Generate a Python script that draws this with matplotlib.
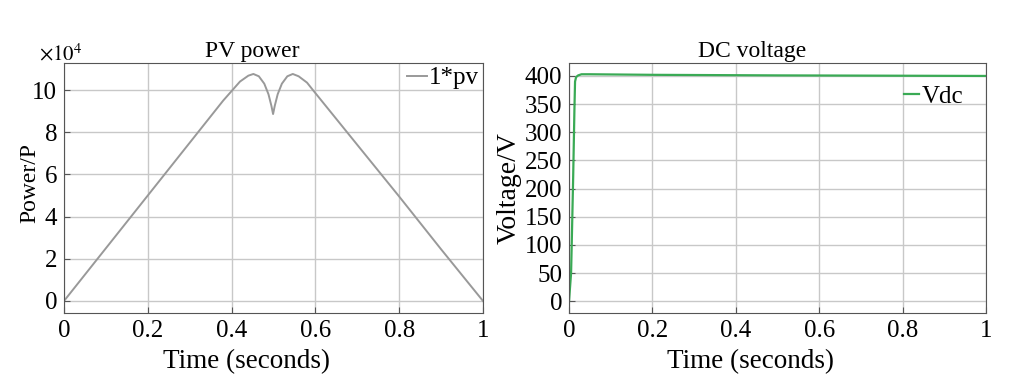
import matplotlib.pyplot as plt

plt.rcParams['font.family'] = ['Liberation Serif', 'DejaVu Serif']
plt.rcParams['mathtext.fontset'] = 'stix'

# PV power (x1e4)
t_pv = [0, 0.1, 0.2, 0.3, 0.38, 0.40, 0.42, 0.44, 0.452, 0.465, 0.478,
        0.488, 0.495, 0.499, 0.503, 0.51, 0.52, 0.533, 0.546, 0.56, 0.58,
        0.594, 0.7, 0.8, 0.9, 1.0]
p_pv = [0, 2.5, 5.0, 7.5, 9.5, 9.95, 10.4, 10.68, 10.76, 10.65, 10.3,
        9.8, 9.25, 8.86, 9.25, 9.8, 10.3, 10.65, 10.76, 10.65, 10.35,
        10.0, 7.4, 4.95, 2.45, 0]

# DC voltage
t_dc = [0, 0.005, 0.0065, 0.01, 0.013, 0.0145, 0.017, 0.022, 0.03, 0.05, 0.2, 0.5, 1.0]
v_dc = [0, 50, 100, 220, 340, 390, 398, 401, 403, 403, 402, 401, 400]

xticks = [0, 0.2, 0.4, 0.6, 0.8, 1]
xlabels = ['0', '0.2', '0.4', '0.6', '0.8', '1']

fig = plt.figure(figsize=(10.25, 3.86), dpi=100)
ax1 = fig.add_axes([64/1025, 1-313/386, 419/1025, 250/386])
ax2 = fig.add_axes([569/1025, 1-313/386, 417/1025, 250/386])

ax1.plot(t_pv, p_pv, color='#999999', lw=1.4, label='1*pv')
ax1.set_xlim(0, 1)
ax1.set_ylim(-0.57, 11.28)
ax1.set_yticks([0, 2, 4, 6, 8, 10])
ax1.set_title('PV power', fontsize=17, pad=4, x=0.45)
ax1.set_ylabel('Power/P', fontsize=17)
ax1.yaxis.set_label_coords(-0.056, 0.52)
ax1.text(-0.06, 1.012, r'$\times10^4$', transform=ax1.transAxes, fontsize=15)

ax2.plot(t_dc, v_dc, color='#3aaa55', lw=1.6, label='Vdc')
ax2.set_xlim(0, 1)
ax2.set_ylim(-21, 423)
ax2.set_yticks(range(0, 401, 50))
ax2.set_title('DC voltage', fontsize=17, pad=4, x=0.44)
ax2.set_ylabel('Voltage/V', fontsize=20)
ax2.yaxis.set_label_coords(-0.113, 0.5)

for ax in (ax1, ax2):
    ax.set_xticks(xticks)
    ax.set_xticklabels(xlabels)
    ax.set_xlabel('Time (seconds)', fontsize=19.5)
    ax.xaxis.set_label_coords(0.435, -0.145)
    ax.tick_params(labelsize=18, direction='in', length=4, color='#555555', pad=5)
    ax.grid(True, color='#c8c8c8', lw=1)
    for s in ax.spines.values():
        s.set_color('#555555')

ax1.legend(loc='upper right', frameon=False, fontsize=18, handlelength=0.8,
           handletextpad=0.1, borderaxespad=0.05, borderpad=0.1)
ax2.legend(loc='upper right', frameon=False, fontsize=18, handlelength=0.6,
           handletextpad=0.1, borderaxespad=0.6, borderpad=0.3)

fig.savefig('out.png', dpi=100)
